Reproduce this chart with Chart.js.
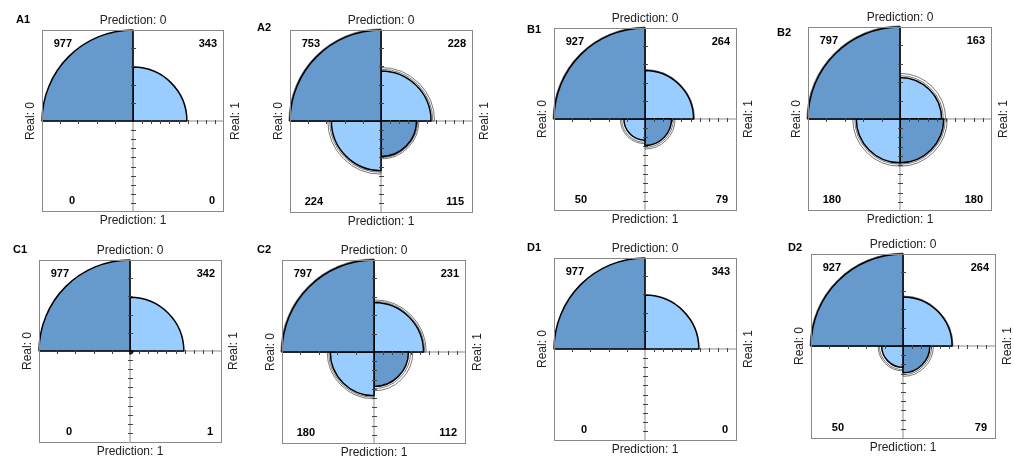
<!DOCTYPE html>
<html>
<head>
<meta charset="utf-8">
<script src="https://cdn.jsdelivr.net/npm/chart.js@4.4.1/dist/chart.umd.min.js"></script>
<style>
  html, body { margin: 0; padding: 0; background: #fff; }
  #wrap { position: relative; width: 1014px; height: 462px; overflow: hidden; }
  #wrap canvas { position: absolute; }
</style>
</head>
<body>
<div id="wrap"></div>
<script>
const predLabels = ["Prediction: 0", "Prediction: 1"];
const realLabels = ["Real: 0", "Real: 1"];

// cells: [Real0 & Pred0, Real1 & Pred0, Real0 & Pred1, Real1 & Pred1]
const countsA1 = [977, 343, 0, 0];
const countsA2 = [753, 228, 224, 115];
const countsB1 = [927, 264, 50, 79];
const countsB2 = [797, 163, 180, 180];
const countsC1 = [977, 342, 0, 1];
const countsC2 = [797, 231, 180, 112];
const countsD1 = [977, 343, 0, 0];
const countsD2 = [927, 264, 50, 79];

const ringLoA2 = [760, 244, 240, 122];
const ringHiA2 = [770, 261, 257, 131];
const ringLoB1 = [935, 268, 61, 90];
const ringHiB1 = [945, 274, 68, 101];
const ringLoB2 = [805, 177, 193, 193];
const ringHiB2 = [815, 196, 210, 210];
const ringLoC2 = [805, 243, 193, 126];
const ringHiC2 = [815, 257, 206, 142];
const ringLoD2 = [935, 268, 61, 90];
const ringHiD2 = [945, 274, 68, 101];

const DARK = "#6699CC", LIGHT = "#99CCFF";

// box = [left, top, size], tag = panel-name offset from box corner
const panels = [
  { name: "A1", counts: countsA1, lo: null, hi: null, box: [42, 30, 182], tag: [-26, -10] },
  { name: "A2", counts: countsA2, lo: ringLoA2, hi: ringHiA2, box: [290, 30, 183], tag: [-33, -2] },
  { name: "B1", counts: countsB1, lo: ringLoB1, hi: ringHiB1, box: [554, 28, 183], tag: [-27, 2] },
  { name: "B2", counts: countsB2, lo: ringLoB2, hi: ringHiB2, box: [808, 27, 184], tag: [-31, 6] },
  { name: "C1", counts: countsC1, lo: null, hi: null, box: [39, 260, 183], tag: [-26, -10] },
  { name: "C2", counts: countsC2, lo: ringLoC2, hi: ringHiC2, box: [282, 260, 184], tag: [-25, -10] },
  { name: "D1", counts: countsD1, lo: null, hi: null, box: [554, 258, 183], tag: [-27, -10] },
  { name: "D2", counts: countsD2, lo: ringLoD2, hi: ringHiD2, box: [811, 254, 185], tag: [-23, -6] }
];

const PAD = { left: 40, top: 24, right: 32, bottom: 22 };

// polar order starts at 12 o'clock going clockwise: TR, BR, BL, TL
const toPolar = c => [c[1], c[3], c[2], c[0]].map(Math.sqrt);

const fourfold = {
  id: "fourfold",
  afterDatasetsDraw(chart) {
    const r = chart.scales.r, ctx = chart.ctx;
    const cx = r.xCenter, cy = r.yCenter, R = r.drawingArea;
    ctx.save();
    ctx.strokeStyle = "#444";
    ctx.lineWidth = 1;
    ctx.beginPath();
    for (let k = 1; k < 10; k++) {
      const d = Math.round(R * k / 10);
      ctx.moveTo(cx + d + 0.5, cy - 1); ctx.lineTo(cx + d + 0.5, cy + 3);
      ctx.moveTo(cx - 2, cy + d + 0.5); ctx.lineTo(cx + 3, cy + d + 0.5);
      if (k % 2 === 0) {
        ctx.moveTo(cx - d + 0.5, cy - 1); ctx.lineTo(cx - d + 0.5, cy + 3);
        ctx.moveTo(cx - 2, cy - d + 0.5); ctx.lineTo(cx + 3, cy - d + 0.5);
      }
    }
    ctx.stroke();
    ctx.restore();
  },
  afterDraw(chart, args, o) {
    const { left, top, right, bottom } = chart.chartArea;
    const r = chart.scales.r, ctx = chart.ctx;
    const cx = r.xCenter, cy = r.yCenter;
    ctx.save();
    ctx.strokeStyle = "#888";
    ctx.lineWidth = 1;
    ctx.strokeRect(left + 0.5, top + 0.5, right - left - 1, bottom - top - 1);

    ctx.fillStyle = "#222";
    ctx.font = "12px 'Liberation Sans', Arial, sans-serif";
    ctx.textAlign = "center";
    ctx.textBaseline = "middle";
    ctx.fillText(predLabels[0], cx, top - 9);
    ctx.fillText(predLabels[1], cx, bottom + 9);
    [[left - 11, realLabels[0]], [right + 12, realLabels[1]]].forEach(([x, t]) => {
      ctx.save();
      ctx.translate(x, cy);
      ctx.rotate(-Math.PI / 2);
      ctx.fillText(t, 0, 0);
      ctx.restore();
    });

    ctx.fillStyle = "#000";
    ctx.font = "bold 11px 'Liberation Sans', Arial, sans-serif";
    ctx.textAlign = "left";
    ctx.fillText(o.name, left + o.tag[0], top + o.tag[1]);
    ctx.textAlign = "right";
    const c = o.counts;
    ctx.fillText(String(c[0]), left + 30, top + 14);
    ctx.fillText(String(c[1]), right - 7, top + 14);
    ctx.fillText(String(c[2]), left + 33, bottom - 11);
    ctx.fillText(String(c[3]), right - 9, bottom - 11);
    ctx.restore();
  }
};

const wrap = document.getElementById("wrap");

panels.forEach(p => {
  const [bl, bt, bs] = p.box;
  const canvas = document.createElement("canvas");
  canvas.width = bs + PAD.left + PAD.right;
  canvas.height = bs + PAD.top + PAD.bottom;
  canvas.style.left = (bl - PAD.left) + "px";
  canvas.style.top = (bt - PAD.top) + "px";
  wrap.appendChild(canvas);

  const datasets = [{
    data: toPolar(p.counts),
    backgroundColor: [LIGHT, DARK, LIGHT, DARK],
    borderColor: "#000",
    borderWidth: 1.5
  }];
  if (p.lo) {
    datasets.push({ data: toPolar(p.lo), backgroundColor: "rgba(0,0,0,0)", borderColor: "#7a7a7a", borderWidth: 1 });
    datasets.push({ data: toPolar(p.hi), backgroundColor: "rgba(0,0,0,0)", borderColor: "#7a7a7a", borderWidth: 1 });
  }

  new Chart(canvas, {
    type: "polarArea",
    data: { labels: ["TR", "BR", "BL", "TL"], datasets },
    options: {
      responsive: false,
      animation: false,
      layout: { padding: PAD },
      scales: {
        r: {
          min: 0,
          max: Math.sqrt(Math.max(...p.counts)),
          startAngle: 0,
          ticks: { display: false },
          grid: { display: false },
          pointLabels: { display: false },
          angleLines: { display: true, color: "#8c8c8c", lineWidth: 1 }
        }
      },
      plugins: {
        legend: { display: false },
        tooltip: { enabled: false },
        fourfold: { name: p.name, tag: p.tag, counts: p.counts }
      }
    },
    plugins: [fourfold]
  });
});
</script>
</body>
</html>
